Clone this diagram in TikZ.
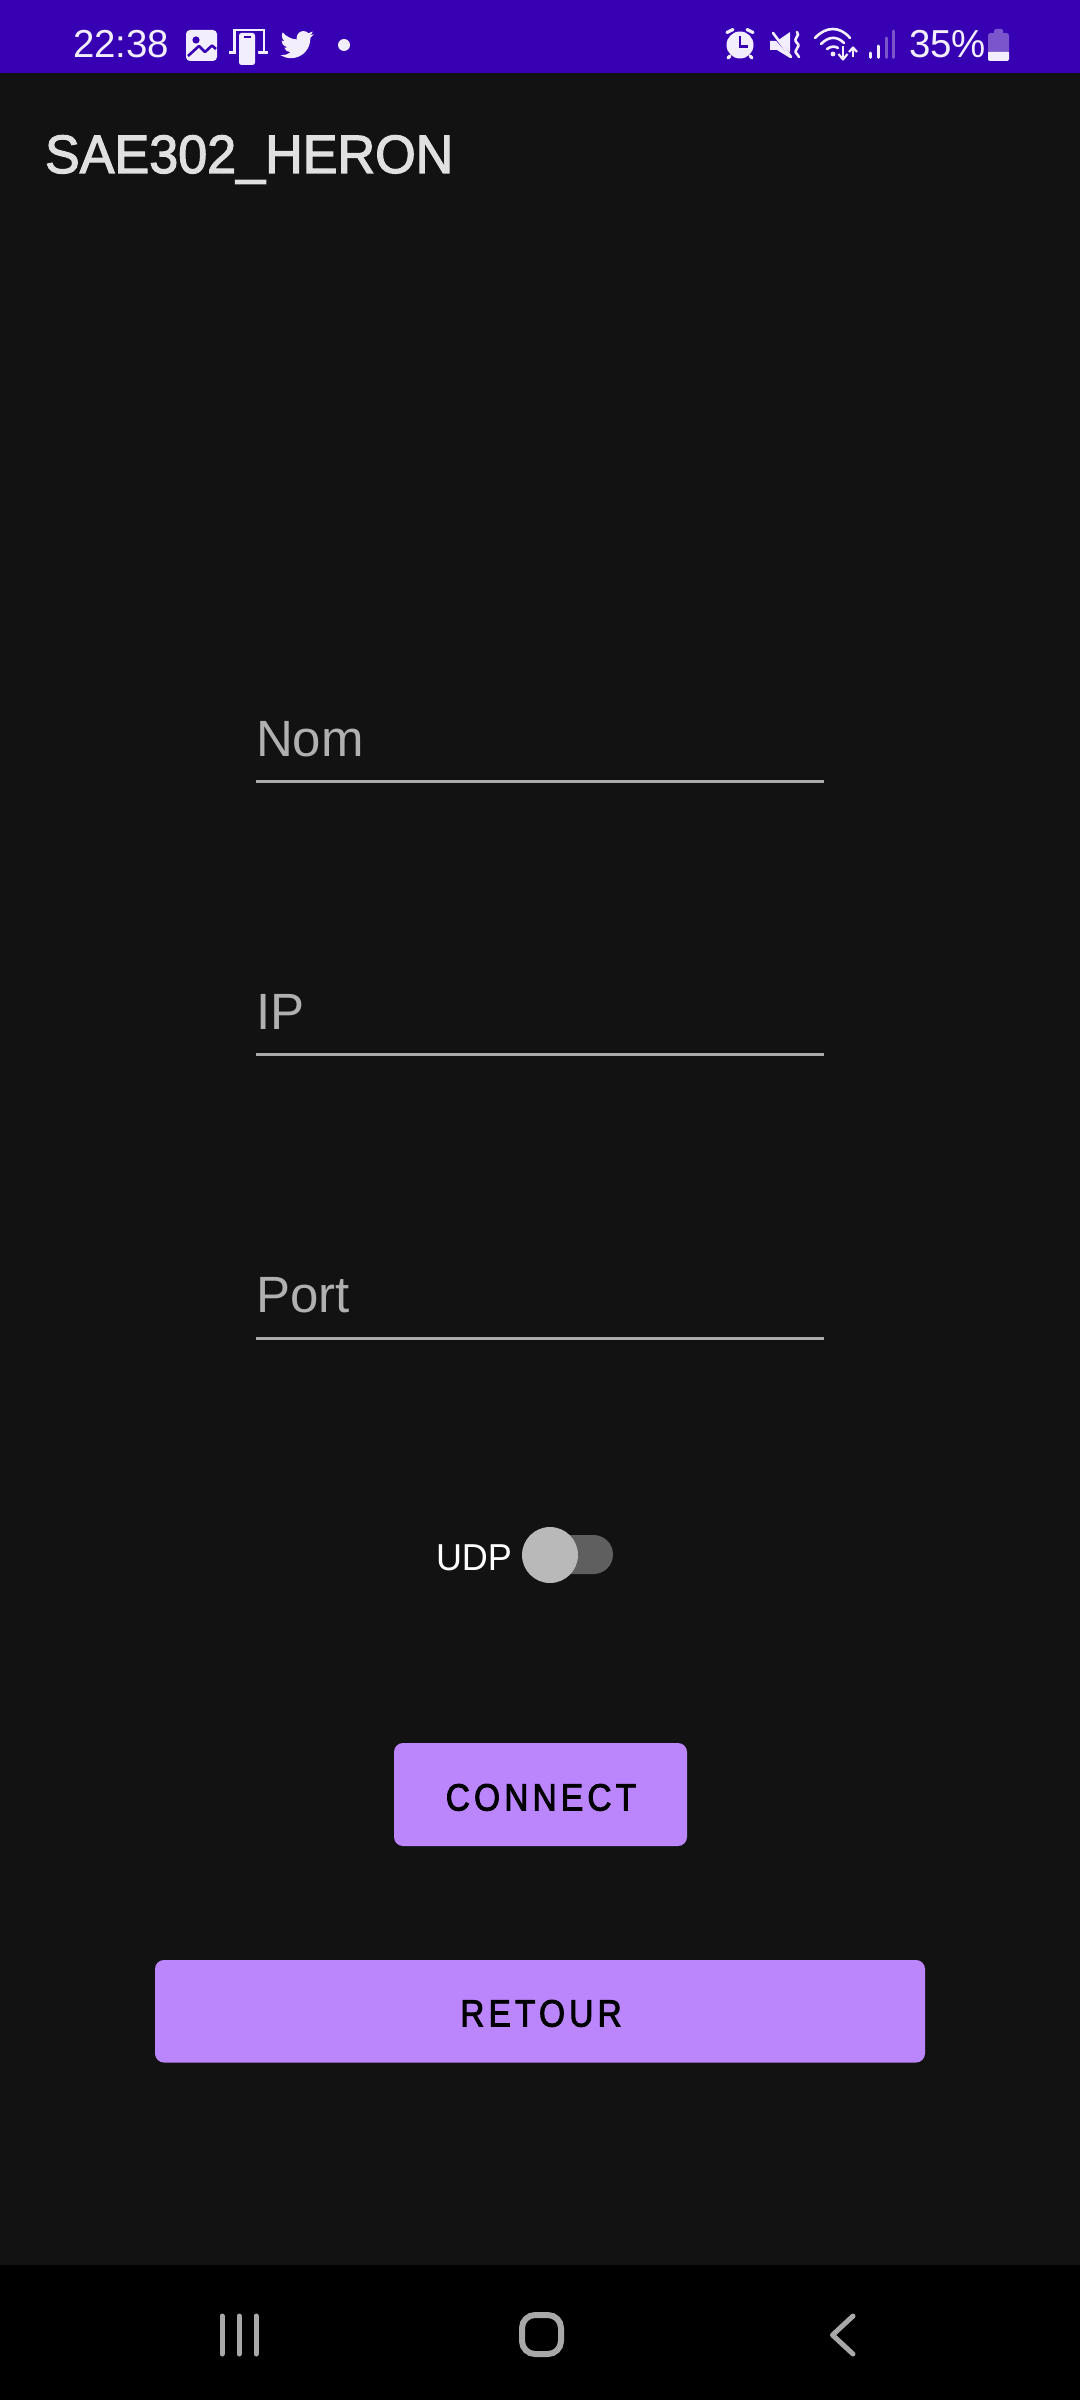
\documentclass[tikz,border=0pt]{standalone}
\usepackage{fontspec}
\setmainfont{Liberation Sans}
\newfontfamily\medfont[FakeBold=2.2,FakeStretch=0.965]{Liberation Sans}
\newfontfamily\btnfont[LetterSpace=11,FakeBold=2.4,FakeStretch=0.88]{Liberation Sans}
\newfontfamily\statfont[FakeStretch=0.985]{Liberation Sans}
\newfontfamily\udpfont[FakeStretch=0.96]{Liberation Sans}
\usetikzlibrary{svg.path}
\definecolor{barblue}{HTML}{3700B3}
\definecolor{bgdark}{HTML}{121212}
\definecolor{ink}{HTML}{F3EEFD}
\definecolor{dimink}{HTML}{7A55CC}
\definecolor{titlegrey}{HTML}{E0E0E0}
\definecolor{hintgrey}{HTML}{B0B0B0}
\definecolor{linegrey}{HTML}{ABABAB}
\definecolor{btn}{HTML}{BB86FC}
\definecolor{track}{HTML}{5F5F5F}
\definecolor{thumb}{HTML}{B9B9B9}
\definecolor{navgrey}{HTML}{A8A8A8}
\tikzset{
  txt/.style={inner sep=0pt,outer sep=0pt,anchor=base west},
  hint/.style={txt,text=hintgrey,font=\fontsize{51}{51}\selectfont},
  stat/.style={txt,text=ink,font=\statfont\fontsize{39}{39}\selectfont},
  fieldline/.style={draw=linegrey,line width=3.5pt},
  btnbox/.style={fill=btn,rounded corners=9pt},
  btntext/.style={inner sep=0pt,anchor=base,text=black,font=\btnfont\fontsize{38}{40}\selectfont},
  navline/.style={draw=navgrey,line width=5pt,line cap=round},
}
\begin{document}
\begin{tikzpicture}[x=1pt,y=-1pt]
\useasboundingbox (0,0) rectangle (1080,2400);
% backgrounds
\fill[bgdark] (0,0) rectangle (1080,2265);
\fill[barblue] (0,0) rectangle (1080,73);
\fill[black] (0,2265) rectangle (1080,2400);
% status bar left
\node[stat] (time) at (73,58) {22:38};
% picture icon
\fill[ink,rounded corners=4pt] (186,30) rectangle (217,61);
\fill[barblue] (196,40) circle[radius=3.6pt];
\draw[barblue,line width=2.6pt,line join=round] (188,56) -- (199,46) -- (205,52) -- (212,45.5) -- (216,49);
% phone link icon
\draw[ink,line width=2.4pt] (234.5,51) -- (234.5,30) -- (264,30) -- (264,51);
\fill[ink] (229,51.5) rectangle (268,54.5);
\fill[barblue,rounded corners=3pt] (236,31.5) rectangle (258,66);
\fill[ink,rounded corners=2.5pt] (239,33) rectangle (255,65);
\fill[barblue] (243.5,36.5) rectangle (250.5,38.5);
% twitter bird
\begin{scope}[shift={(279,27)},xscale=1.47,yscale=-1.47]
\fill[ink] svg "M23.643 4.937c-.835.37-1.732.62-2.675.733.962-.576 1.7-1.49 2.048-2.578-.9.534-1.897.922-2.958 1.13-.85-.904-2.06-1.47-3.4-1.47-2.572 0-4.658 2.086-4.658 4.66 0 .364.042.718.12 1.06-3.873-.195-7.304-2.05-9.602-4.868-.4.69-.63 1.49-.63 2.342 0 1.616.823 3.043 2.072 3.878-.764-.025-1.482-.234-2.11-.583v.06c0 2.257 1.605 4.14 3.737 4.568-.392.106-.803.162-1.227.162-.3 0-.593-.028-.877-.082.593 1.85 2.313 3.198 4.352 3.234-1.595 1.25-3.604 1.995-5.786 1.995-.376 0-.747-.022-1.112-.065 2.062 1.323 4.51 2.093 7.14 2.093 8.57 0 13.255-7.098 13.255-13.254 0-.2-.005-.402-.014-.602.91-.658 1.7-1.477 2.323-2.41z";
\end{scope}
\fill[ink] (344,45) circle[radius=6pt];
% alarm icon
\fill[ink] (740,45) circle[radius=13.5pt];
\draw[barblue,line width=2.6pt] (740,36) -- (740,46.5) -- (748,46.5);
\draw[ink,line width=3.2pt,line cap=round] (727,32.5) -- (733,29.5);
\draw[ink,line width=3.2pt,line cap=round] (753,32.5) -- (747,29.5);
\draw[ink,line width=3.2pt,line cap=round] (730,56) -- (728,58);
\draw[ink,line width=3.2pt,line cap=round] (750,56) -- (752,58);
% muted vibrate icon
\fill[ink] (770,41) -- (777,41) -- (790,32) -- (790,58) -- (777,50) -- (770,50) -- cycle;
\draw[barblue,line width=2.2pt] (768,30) -- (793,58);
\draw[ink,line width=2.6pt,line cap=round] (773,33) -- (791,57);
\draw[ink,line width=2.6pt,line cap=round] (797,32) .. controls (801,36) and (792,38) .. (797,43) .. controls (802,47) and (792,50) .. (797,54) -- (799,57);
% wifi icon
\draw[ink,line width=2.6pt,line cap=round] (815,38) .. controls (826,26) and (840,26) .. (850,38);
\draw[ink,line width=2.6pt,line cap=round] (821,44) .. controls (829,36) and (837,36) .. (844,43);
\draw[ink,line width=2.6pt,line cap=round] (827,49) .. controls (831,46) and (835,46) .. (838,48);
\fill[ink] (833,54) circle[radius=2.4pt];
\draw[ink,line width=2.2pt] (843,46) -- (843,59);
\draw[ink,line width=2.2pt,line join=round] (838.5,54) -- (843,59.5) -- (847.5,54);
\draw[ink,line width=2.2pt] (853,48) -- (853,57);
\draw[ink,line width=2.2pt,line join=round] (849,52) -- (853,47.5) -- (857,52);
% signal bars
\draw[ink,line width=3pt,line cap=round] (870,53) -- (870,57.5);
\draw[ink,line width=3pt,line cap=round] (878,46) -- (878,57.5);
\draw[dimink,line width=3pt,line cap=round] (886,38) -- (886,57.5);
\draw[dimink,line width=3pt,line cap=round] (893.5,31) -- (893.5,57.5);
% battery pct
\node[stat] (pct) at (909,58) {35\%};
\fill[dimink,rounded corners=2.5pt] (988,33) rectangle (1009,61);
\fill[dimink,rounded corners=1.5pt] (994,29) rectangle (1003,35);
\fill[ink,rounded corners=2pt] (988,52) rectangle (1009,61);
\fill[ink] (988,52) rectangle (1009,56);
% title
\node[txt,text=titlegrey,font=\medfont\fontsize{54}{56}\selectfont] (title) at (45,173) {SAE302\_HERON};
% fields
\node[hint] (nom) at (256,756) {Nom};
\draw[fieldline] (256,781.5) -- (824,781.5);
\node[hint] (ip) at (256,1029) {IP};
\draw[fieldline] (256,1054.5) -- (824,1054.5);
\node[hint] (port) at (256,1312.5) {Port};
\draw[fieldline] (256,1338.5) -- (824,1338.5);
% switch
\node[txt,text=white,font=\udpfont\fontsize{37.5}{38}\selectfont] (udp) at (436,1570) {UDP};
\fill[track,rounded corners=19.5pt] (545,1535) rectangle (613,1574);
\fill[thumb] (550,1555) circle[radius=28pt];
% buttons
\fill[btnbox] (394,1743) rectangle (687,1846);
\node[btntext] (connect) at (541,1810.5) {CONNECT};
\fill[btnbox] (155,1960) rectangle (925,2062.5);
\node[btntext] (retour) at (541,2026.5) {RETOUR};
% nav bar
\draw[navline] (222,2316) -- (222,2354);
\draw[navline] (239,2316) -- (239,2354);
\draw[navline] (256,2316) -- (256,2354);
\draw[draw=navgrey,line width=6pt,rounded corners=13pt] (522,2315) rectangle (561,2354);
\draw[navline,line join=round] (853,2316) -- (832.5,2335) -- (853,2354);
\end{tikzpicture}
\end{document}
